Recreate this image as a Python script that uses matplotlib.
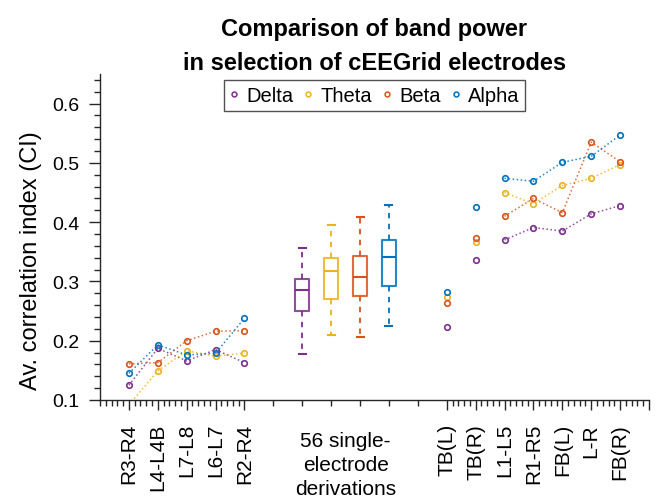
import numpy as np
import matplotlib
matplotlib.use("Agg")
import matplotlib.pyplot as plt
from matplotlib.lines import Line2D

plt.rcParams['font.family'] = ['Liberation Sans', 'DejaVu Sans']

# ---------------- data ----------------
bands = ['Delta', 'Theta', 'Beta', 'Alpha']
colors = ['#7E2F8E', '#EDB120', '#D95319', '#0072BD']

left_labels = ['R3-R4', 'L4-L4B', 'L7-L8', 'L6-L7', 'R2-R4']
right_labels = ['TB(L)', 'TB(R)', 'L1-L5', 'R1-R5', 'FB(L)', 'L-R', 'FB(R)']
middle_label = '56 single-\nelectrode\nderivations'

delta_left = [0.125, 0.187, 0.166, 0.185, 0.163]
theta_left = [0.092, 0.149, 0.183, 0.174, 0.179]
beta_left = [0.161, 0.163, 0.200, 0.216, 0.217]
alpha_left = [0.145, 0.193, 0.176, 0.179, 0.238]

delta_right = [0.223, 0.336, 0.370, 0.391, 0.385, 0.414, 0.428]
theta_right = [0.274, 0.367, 0.450, 0.431, 0.462, 0.474, 0.497]
beta_right = [0.263, 0.374, 0.410, 0.440, 0.416, 0.535, 0.502]
alpha_right = [0.282, 0.425, 0.474, 0.469, 0.501, 0.511, 0.547]

# box stats: lower whisker, q1, median, q3, upper whisker
delta_box = [0.178, 0.250, 0.2855, 0.304, 0.357]
theta_box = [0.210, 0.271, 0.317, 0.339, 0.396]
beta_box = [0.207, 0.276, 0.307, 0.343, 0.409]
alpha_box = [0.225, 0.2915, 0.342, 0.370, 0.429]

left_vals = [delta_left, theta_left, beta_left, alpha_left]
right_vals = [delta_right, theta_right, beta_right, alpha_right]
box_vals = [delta_box, theta_box, beta_box, alpha_box]

# ---------------- figure ----------------
W, H = 657, 502
fig = plt.figure(figsize=(W / 100, H / 100), dpi=100)
ax = fig.add_axes([100 / W, (H - 401) / H, (649 - 100) / W, (401 - 75) / H])

left_pos = np.arange(1, len(left_labels) + 1)
box_pos = np.arange(len(left_labels) + 2, len(left_labels) + 2 + len(bands))
right_start = box_pos[-1] + 2
right_pos = np.arange(right_start, right_start + len(right_labels))

mk = dict(marker='o', markersize=4, markerfacecolor='none', markeredgewidth=1.2)

for vals, c in zip(left_vals, colors):
    ax.plot(left_pos, vals, linestyle=':', linewidth=1.1, color=c, alpha=0.85)
    ax.plot(left_pos, vals, linestyle='none', color=c, **mk)

for vals, c in zip(right_vals, colors):
    ax.plot(right_pos[2:], vals[2:], linestyle=':', linewidth=1.1, color=c, alpha=0.85)
    ax.plot(right_pos, vals, linestyle='none', color=c, **mk)

for p, st, c in zip(box_pos, box_vals, colors):
    stats = [dict(whislo=st[0], q1=st[1], med=st[2], q3=st[3], whishi=st[4], fliers=[])]
    ax.bxp(stats, positions=[p], widths=0.5, showfliers=False,
           boxprops=dict(color=c, linewidth=1.5, alpha=0.85),
           medianprops=dict(color=c, linewidth=1.5),
           whiskerprops=dict(color=c, linewidth=1.3, linestyle=(0, (3, 3))),
           capprops=dict(color=c, linewidth=1.5),
           capwidths=0.24, manage_ticks=False)

ax.set_xlim(0, right_pos[-1] + 1)
ax.set_ylim(0.1, 0.65)

# x ticks
major_x = list(left_pos) + list(right_pos) + [right_pos[-1] + 1]
major_lbl = list(left_labels) + list(right_labels) + ['']
ax.set_xticks(major_x)
ax.set_xticklabels(major_lbl, rotation=90, fontsize=15)
minor_x = [v for v in np.arange(0, left_pos[-1] + 0.01, 0.2) if abs(v - round(v)) > 1e-6 or v < 0.5]
minor_x += list(range(left_pos[-1] + 1, right_pos[0]))
minor_x += [v for v in np.arange(right_pos[0], right_pos[-1] + 1.01, 0.2) if abs(v - round(v)) > 1e-6]
ax.set_xticks(minor_x, minor=True)
ax.tick_params(axis='x', which='major', direction='out', length=7.5, width=1.0, pad=9, colors='#262626', labelcolor='black')
ax.tick_params(axis='x', which='minor', direction='out', length=4.5, width=1.0, colors='#262626')

ax.text(np.mean(box_pos), -0.095, middle_label, transform=ax.get_xaxis_transform(),
        ha='center', va='top', fontsize=15, linespacing=1.35)

# y ticks
ax.set_yticks(np.arange(0.1, 0.61, 0.1))
ax.set_yticklabels(['0.1', '0.2', '0.3', '0.4', '0.5', '0.6'], fontsize=14)
ax.set_yticks(np.arange(0.1, 0.651, 0.02), minor=True)
ax.tick_params(axis='y', which='major', direction='out', length=8, width=1.0, pad=7, colors='#262626', labelcolor='black')
ax.tick_params(axis='y', which='minor', direction='out', length=4, width=1.0, colors='#262626')

for s in ['top', 'right']:
    ax.spines[s].set_visible(False)
for s in ['left', 'bottom']:
    ax.spines[s].set_color('#262626')
    ax.spines[s].set_linewidth(1.0)

ax.set_ylabel('Av. correlation index (CI)', fontsize=17)
ax.yaxis.set_label_coords(-0.105, 0.43)
ax.set_title('Comparison of band power\nin selection of cEEGrid electrodes',
             fontsize=17, fontweight='bold', pad=3, linespacing=1.6)

handles = [Line2D([], [], linestyle='none', marker='o', markersize=3.5,
                  markerfacecolor='none', markeredgewidth=1.1, color=c) for c in colors]
leg = ax.legend(handles, bands, loc='upper center', bbox_to_anchor=(0.5, 0.982),
                ncol=4, fontsize=14.5, frameon=True, fancybox=False,
                handlelength=0.4, handletextpad=0.4, columnspacing=0.55,
                borderpad=0.3, borderaxespad=0)
leg.get_frame().set_edgecolor('#262626')
leg.get_frame().set_linewidth(1.0)

fig.savefig('out.png', dpi=100)
